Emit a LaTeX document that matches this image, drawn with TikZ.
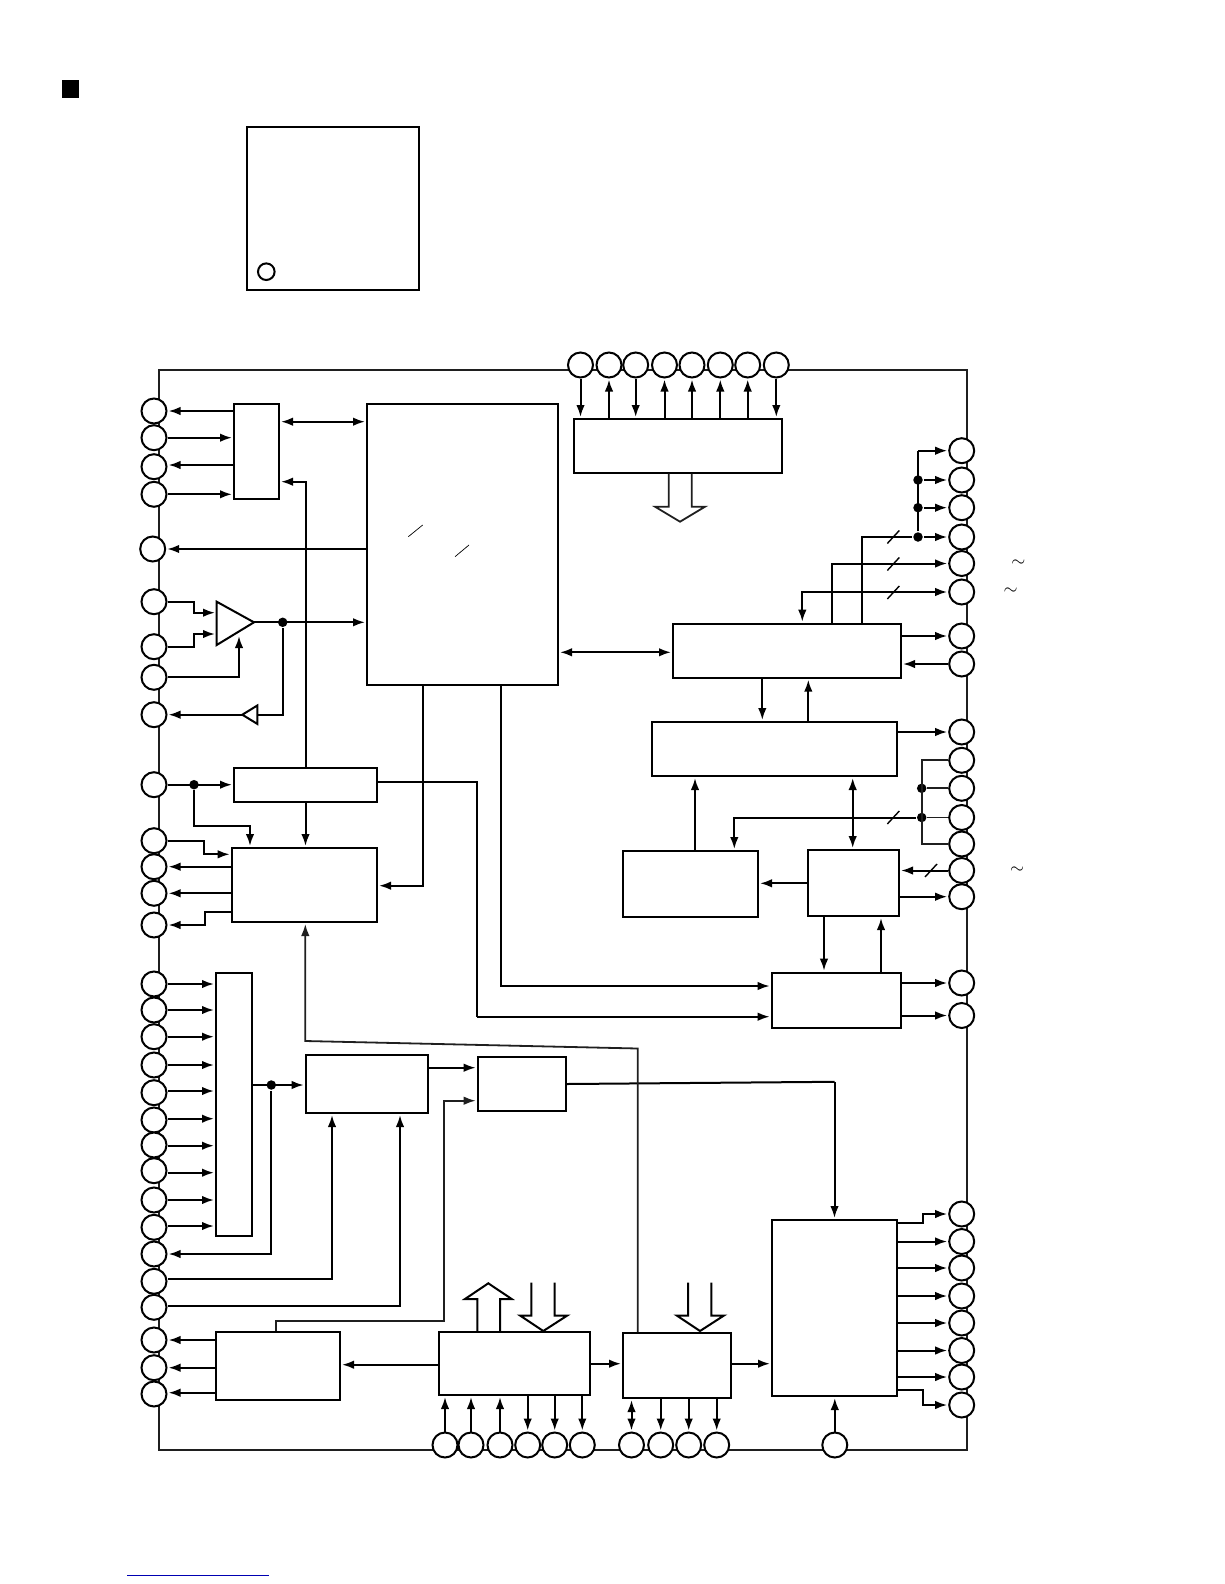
\documentclass[tikz,border=0pt]{standalone}
\usepackage{amssymb,amsmath}
\usepackage{tikz}
\usetikzlibrary{arrows}
\usetikzlibrary{arrows.meta}
\begin{document}
\begin{tikzpicture}[x=1pt,y=-1pt,line width=2pt]
\tikzset{>={Latex[width=8.5pt,length=12pt]}}
\tikzstyle{pad} =[circle, draw, fill = white,inner sep=0pt,minimum size=25pt]
\tikzstyle{block} =[rectangle, draw, inner sep=0pt]
\tikzstyle{junct} =[circle, fill = black,inner sep=0pt,minimum size=9.5pt]
\tikzstyle{sig} =[->,shorten >=1pt]
\tikzstyle{dbl} =[<->,shorten >=1pt,shorten <=1pt]
\tikzstyle{slash} =[line width=1.4pt]
\tikzstyle{thinwire} =[line width=1.8pt,black!88]
\tikzstyle{tilde} =[inner sep=0pt,scale=1.8]

\useasboundingbox (0,0) rectangle (1224,1584);

% title mark and package
\node[fill = black,inner sep=0pt,minimum width=17pt,minimum height=18pt](mark) at (70.5,89){};
\node[block,minimum width=172pt,minimum height=162.7pt](pkg) at (332.7,208.35){};
\node[pad,minimum size=16.6pt](pkgdot) at (266.3,271.7){};

% chip outline
\node[block,thinwire,minimum width=808pt,minimum height=1080pt](chip) at (562.7,910){};

% pads, left side
\node[pad](pl1) at (154,411){};
\node[pad](pl2) at (154,437.7){};
\node[pad](pl3) at (154,466.7){};
\node[pad](pl4) at (154,494.3){};
\node[pad](pl5) at (152.7,549){};
\node[pad](pl6) at (154,601.7){};
\node[pad](pl7) at (154,646.7){};
\node[pad](pl8) at (154,677.3){};
\node[pad](pl9) at (154,714.7){};
\node[pad](pl10) at (154,784.7){};
\node[pad](pl11) at (154,840.7){};
\node[pad](pl12) at (154,866.7){};
\node[pad](pl13) at (154,893.3){};
\node[pad](pl14) at (154,925){};
\node[pad](pl15) at (154,984){};
\node[pad](pl16) at (154,1010){};
\node[pad](pl17) at (154,1036.7){};
\node[pad](pl18) at (154,1065){};
\node[pad](pl19) at (154,1092.7){};
\node[pad](pl20) at (154,1120){};
\node[pad](pl21) at (154,1145){};
\node[pad](pl22) at (154,1170.7){};
\node[pad](pl23) at (154,1200){};
\node[pad](pl24) at (154,1227.3){};
\node[pad](pl25) at (154,1254){};
\node[pad](pl26) at (154,1281.3){};
\node[pad](pl27) at (154,1307.3){};
\node[pad](pl28) at (154,1340){};
\node[pad](pl29) at (154,1367.7){};
\node[pad](pl30) at (154,1394){};

% pads, right side
\node[pad](pr1) at (961.7,450.7){};
\node[pad](pr2) at (961.7,480){};
\node[pad](pr3) at (961.7,507.7){};
\node[pad](pr4) at (961.7,537){};
\node[pad](pr5) at (961.7,563.5){};
\node[pad](pr6) at (961.7,592){};
\node[pad](pr7) at (961.7,636){};
\node[pad](pr8) at (961.7,664){};
\node[pad](pr9) at (961.7,732){};
\node[pad](pr10) at (961.7,760.3){};
\node[pad](pr11) at (961.7,788.3){};
\node[pad](pr12) at (961.7,817.5){};
\node[pad](pr13) at (961.7,844){};
\node[pad](pr14) at (961.7,870.5){};
\node[pad](pr15) at (961.7,896.7){};
\node[pad](pr16) at (961.7,983){};
\node[pad](pr17) at (961.7,1015.5){};
\node[pad](pr18) at (961.7,1214){};
\node[pad](pr19) at (961.7,1241.5){};
\node[pad](pr20) at (961.7,1268){};
\node[pad](pr21) at (961.7,1296){};
\node[pad](pr22) at (961.7,1323){};
\node[pad](pr23) at (961.7,1350.5){};
\node[pad](pr24) at (961.7,1377){};
\node[pad](pr25) at (961.7,1405){};

% pads, top and bottom
\node[pad](pt1) at (580.5,365){};
\node[pad](pt2) at (609,365){};
\node[pad](pt3) at (635.7,365){};
\node[pad](pt4) at (664.5,365){};
\node[pad](pt5) at (692,365){};
\node[pad](pt6) at (720.3,365){};
\node[pad](pt7) at (747.7,365){};
\node[pad](pt8) at (776.3,365){};
\node[pad](pb1) at (445,1445){};
\node[pad](pb2) at (471,1445){};
\node[pad](pb3) at (500,1445){};
\node[pad](pb4) at (527.7,1445){};
\node[pad](pb5) at (554.7,1445){};
\node[pad](pb6) at (582.3,1445){};
\node[pad](pb7) at (631.5,1445){};
\node[pad](pb8) at (660.7,1445){};
\node[pad](pb9) at (688.7,1445){};
\node[pad](pb10) at (716.7,1445){};
\node[pad](pb11) at (834.8,1445){};

% blocks
\node[block,minimum width=45pt,minimum height=95pt](iface) at (256.5,451.5){};
\node[block,minimum width=191pt,minimum height=281pt](main) at (462.5,544.5){};
\node[block,minimum width=208pt,minimum height=53.7pt](tbox) at (678,445.85){};
\node[block,minimum width=228pt,minimum height=54pt](cbox) at (787,650.7){};
\node[block,minimum width=245.6pt,minimum height=54pt](dbox) at (774.5,749){};
\node[block,minimum width=135.3pt,minimum height=65.8pt](ebox) at (690.35,883.9){};
\node[block,minimum width=91pt,minimum height=66pt](fbox) at (853.5,883){};
\node[block,minimum width=129.6pt,minimum height=55.5pt](mbox) at (836.5,1000.45){};
\node[block,minimum width=143pt,minimum height=34pt](kbox) at (305.5,785){};
\node[block,minimum width=145.3pt,minimum height=74pt](lbox) at (304.35,885){};
\node[block,minimum width=36pt,minimum height=263.3pt](rail) at (234,1104.35){};
\node[block,minimum width=122.3pt,minimum height=58pt](obox) at (366.85,1084){};
\node[block,minimum width=88.3pt,minimum height=54pt](nbox) at (521.85,1084){};
\node[block,minimum width=124pt,minimum height=68pt](gbox) at (278,1366){};
\node[block,minimum width=150.7pt,minimum height=63pt](hbox) at (514.65,1363.5){};
\node[block,minimum width=108pt,minimum height=65pt](ibox) at (677,1365.5){};
\node[block,minimum width=125pt,minimum height=176pt](jbox) at (834.5,1308){};

% junctions
\node[junct](d1) at (282.7,622.3){};
\node[junct](d3) at (194,784.7){};
\node[junct](d4) at (918,480){};
\node[junct](d5) at (918,507.7){};
\node[junct](d6) at (918,537){};
\node[junct](d7) at (921.7,788.3){};
\node[junct](d8) at (921.7,817.5){};
\node[junct](d9) at (271.3,1085){};

% amplifier and buffer
\coordinate (ampo) at (254,622.3);
\coordinate (bufin) at (257.3,714.7);
\coordinate (buftip) at (242.3,714.7);
\draw (216.7,601.7) -- (216.7,645) -- (ampo) -- cycle;
\draw (257.3,705.5) -- (257.3,723.9) -- (buftip) -- cycle;

% left side
\draw [sig] (iface.west |- pl1) -- (pl1);
\draw [sig] (pl2) -- (iface.west |- pl2);
\draw [sig] (iface.west |- 0,465) -- (pl3.east |- 0,465);
\draw [sig] (pl4) -- (iface.west |- pl4);
\draw [dbl] (iface.east |- 0,421.7) -- (main.west |- 0,421.7);
\draw [sig] (kbox.north) |- (iface.east |- 0,481.7);
\draw [sig] (main.west |- pl5) -- (pl5);
\draw [sig] (pl6) -- (194,601.7) -- (194,612.7) -- (216,612.7);
\draw [sig] (pl7) -- (194,646.7) -- (194,634) -- (216,634);
\draw [sig] (pl8) -| (239,635);
\draw [sig] (ampo) -- (main.west |- ampo);
\draw (d1) |- (bufin);
\draw [sig] (buftip) -- (pl9);
\draw [sig] (pl10) -- (kbox.west |- pl10);
\draw [sig] (d3) |- (250,825.7) -- (lbox.north -| 250,0);
\draw [sig] (kbox.south) -- (lbox.north -| kbox.south);
\draw [sig] (pl11) -- (203.7,840.7) -- (203.7,854.3) -- (lbox.west |- 0,854.3);
\draw [sig] (lbox.west |- pl12) -- (pl12);
\draw [sig] (lbox.west |- pl13) -- (pl13);
\draw [sig] (lbox.west |- 0,912) -- (205,912) -- (205,925) -- (pl14);
\draw [sig] (main.south -| 422.7,0) |- (lbox.east |- 0,885.7);
\draw (kbox.east |- 0,782.3) -- (477,782.3) -- (477,1017);
\draw [sig] (477,1016.7) -- (mbox.west |- 0,1016.7);
\draw [sig] (main.south -| 501,0) |- (mbox.west |- 0,986);

% top block
\draw [sig] (pt1) -- (tbox.north -| pt1);
\draw [sig] (tbox.north -| pt2) -- (pt2);
\draw [sig] (pt3) -- (tbox.north -| pt3);
\draw [sig] (tbox.north -| pt4) -- (pt4);
\draw [sig] (tbox.north -| pt5) -- (pt5);
\draw [sig] (tbox.north -| pt6) -- (pt6);
\draw [sig] (tbox.north -| pt7) -- (pt7);
\draw [sig] (pt8) -- (tbox.north -| pt8);
\draw [thinwire] (tbox.south -| 668.7,0) -- (668.7,506.7) -- (655,506.7) -- (680,521.7) -- (705,506.7) -- (691.7,506.7) -- (tbox.south -| 691.7,0);

% right side
\draw (d6) -- (918,450.7);
\draw [sig] (918,450.7) -- (pr1);
\draw [sig] (d4) -- (pr2);
\draw [sig] (d5) -- (pr3);
\draw [sig] (d6) -- (pr4);
\draw (cbox.north -| 861.7,0) |- (d6);
\draw [sig] (cbox.north -| 831.7,0) |- (pr5);
\draw [dbl] (pr6) -| (cbox.north -| 802.3,0);
\draw [slash] (887.3,543.5) -- (899.3,530.5);
\draw [slash] (887.3,570.5) -- (899.3,557.5);
\draw [slash] (887.3,599) -- (899.3,586);
\draw [dbl] (main.east |- 0,652.3) -- (cbox.west |- 0,652.3);
\draw [sig] (cbox.east |- pr7) -- (pr7);
\draw [sig] (pr8) -- (cbox.east |- pr8);
\draw [sig] (cbox.south -| 762.3,0) -- (dbox.north -| 762.3,0);
\draw [sig] (dbox.north -| 808.3,0) -- (cbox.south -| 808.3,0);
\draw [sig] (dbox.east |- pr9) -- (pr9);
\draw [thinwire] (pr10) -- (921.7,760.3) -- (921.7,844) -- (pr13);
\draw [thinwire] (d7) -- (pr11);
\draw [thinwire] (d8) -- (pr12);
\draw [sig] (d8) -| (ebox.north -| 734.3,0);
\draw [slash] (887.3,824) -- (899.3,811);
\draw [sig] (ebox.north -| 695,0) -- (dbox.south -| 695,0);
\draw [dbl] (dbox.south -| 852.7,0) -- (fbox.north -| 852.7,0);
\draw [sig] (fbox.west |- 0,883.3) -- (ebox.east |- 0,883.3);
\draw [sig] (pr14) -- (fbox.east |- pr14);
\draw [slash] (925,877) -- (937,864);
\draw [sig] (fbox.east |- pr15) -- (pr15);
\draw [sig] (fbox.south -| 824,0) -- (mbox.north -| 824,0);
\draw [sig] (mbox.north -| 881,0) -- (fbox.south -| 881,0);
\draw [sig] (mbox.east |- pr16) -- (pr16);
\draw [sig] (mbox.east |- pr17) -- (pr17);

% rail and lower left
\draw [sig] (pl15) -- (rail.west |- pl15);
\draw [sig] (pl16) -- (rail.west |- pl16);
\draw [sig] (pl17) -- (rail.west |- pl17);
\draw [sig] (pl18) -- (rail.west |- pl18);
\draw [sig] (pl19.east |- 0,1091) -- (rail.west |- 0,1091);
\draw [sig] (pl20.east |- 0,1118.7) -- (rail.west |- 0,1118.7);
\draw [sig] (pl21.east |- 0,1145.7) -- (rail.west |- 0,1145.7);
\draw [sig] (pl22.east |- 0,1172.7) -- (rail.west |- 0,1172.7);
\draw [sig] (pl23) -- (rail.west |- pl23);
\draw [sig] (pl24.east |- 0,1226) -- (rail.west |- 0,1226);
\draw [sig] (rail.east |- d9) -- (obox.west |- d9);
\draw [sig] (d9) |- (pl25);
\draw [sig] (pl26.east |- 0,1279) -| (obox.south -| 332,0);
\draw [sig] (pl27.east |- 0,1306) -| (obox.south -| 400,0);
\draw [sig] (obox.east |- 0,1067.7) -- (nbox.west |- 0,1067.7);
\draw [sig,thinwire] (gbox.north -| 276,0) -- (276,1321) -- (444,1321) -- (444,1100.7) -- (nbox.west |- 0,1100.7);
\draw (nbox.east |- 0,1084) -- (834.5,1081.8);
\draw [sig] (834.5,1081.8) -- (jbox.north);
\draw [sig,thinwire] (ibox.north -| 637.7,0) -- (637.7,1048.5) -- (305.3,1041) -- (lbox.south -| 305.3,0);
\draw [sig] (gbox.west |- pl28) -- (pl28);
\draw [sig] (gbox.west |- pl29) -- (pl29);
\draw [sig] (gbox.west |- 0,1392.7) -- (pl30.east |- 0,1392.7);
\draw [sig] (hbox.west |- 0,1364.7) -- (gbox.east |- 0,1364.7);

% bottom row
\draw (hbox.north -| 477.3,0) -- (477.3,1299) -- (465,1299) -- (488.3,1283.3) -- (511.7,1299) -- (500,1299) -- (hbox.north -| 500,0);
\draw (531.3,1282.7) -- (531.3,1315.5) -- (520,1315.5) -- (543.3,1331) -- (567.3,1315.5) -- (554.7,1315.5) -- (554.7,1282.7);
\draw (688,1282.7) -- (688,1315.5) -- (676.7,1315.5) -- (700,1331) -- (724,1315.5) -- (711.3,1315.5) -- (711.3,1282.7);
\draw [sig] (hbox.east |- 0,1363.7) -- (ibox.west |- 0,1363.7);
\draw [sig] (ibox.east |- 0,1363.7) -- (jbox.west |- 0,1363.7);
\draw [sig] (pb1) -- (hbox.south -| pb1);
\draw [sig] (pb2) -- (hbox.south -| pb2);
\draw [sig] (pb3) -- (hbox.south -| pb3);
\draw [sig] (hbox.south -| pb4) -- (pb4);
\draw [sig] (hbox.south -| pb5) -- (pb5);
\draw [sig] (hbox.south -| pb6) -- (pb6);
\draw [dbl] (ibox.south -| pb7) -- (pb7);
\draw [sig] (ibox.south -| pb8) -- (pb8);
\draw [sig] (ibox.south -| pb9) -- (pb9);
\draw [sig] (ibox.south -| pb10) -- (pb10);
\draw [sig] (pb11) -- (jbox.south -| pb11);

% lower right block
\draw [sig] (jbox.east |- 0,1222.7) -- (923.3,1222.7) -- (923.3,1214) -- (pr18);
\draw [sig] (jbox.east |- pr19) -- (pr19);
\draw [sig] (jbox.east |- pr20) -- (pr20);
\draw [sig] (jbox.east |- pr21) -- (pr21);
\draw [sig] (jbox.east |- pr22) -- (pr22);
\draw [sig] (jbox.east |- pr23) -- (pr23);
\draw [sig] (jbox.east |- pr24) -- (pr24);
\draw [sig] (jbox.east |- 0,1390) -- (923.3,1390) -- (923.3,1405) -- (pr25);

% marks left of the text
\draw [line width=0.7pt] (408.3,536.7) -- (422.7,525);
\draw [line width=0.7pt] (455,556.7) -- (469,545);
\node[tilde](tl1) at (1018.3,563.3){$\sim$};
\node[tilde](tl2) at (1010.7,591){$\sim$};
\node[tilde](tl3) at (1017,870){$\sim$};

\draw [line width=0.8pt,blue!70!black] (127,1575) -- (268.7,1575);
\end{tikzpicture}
\end{document}
